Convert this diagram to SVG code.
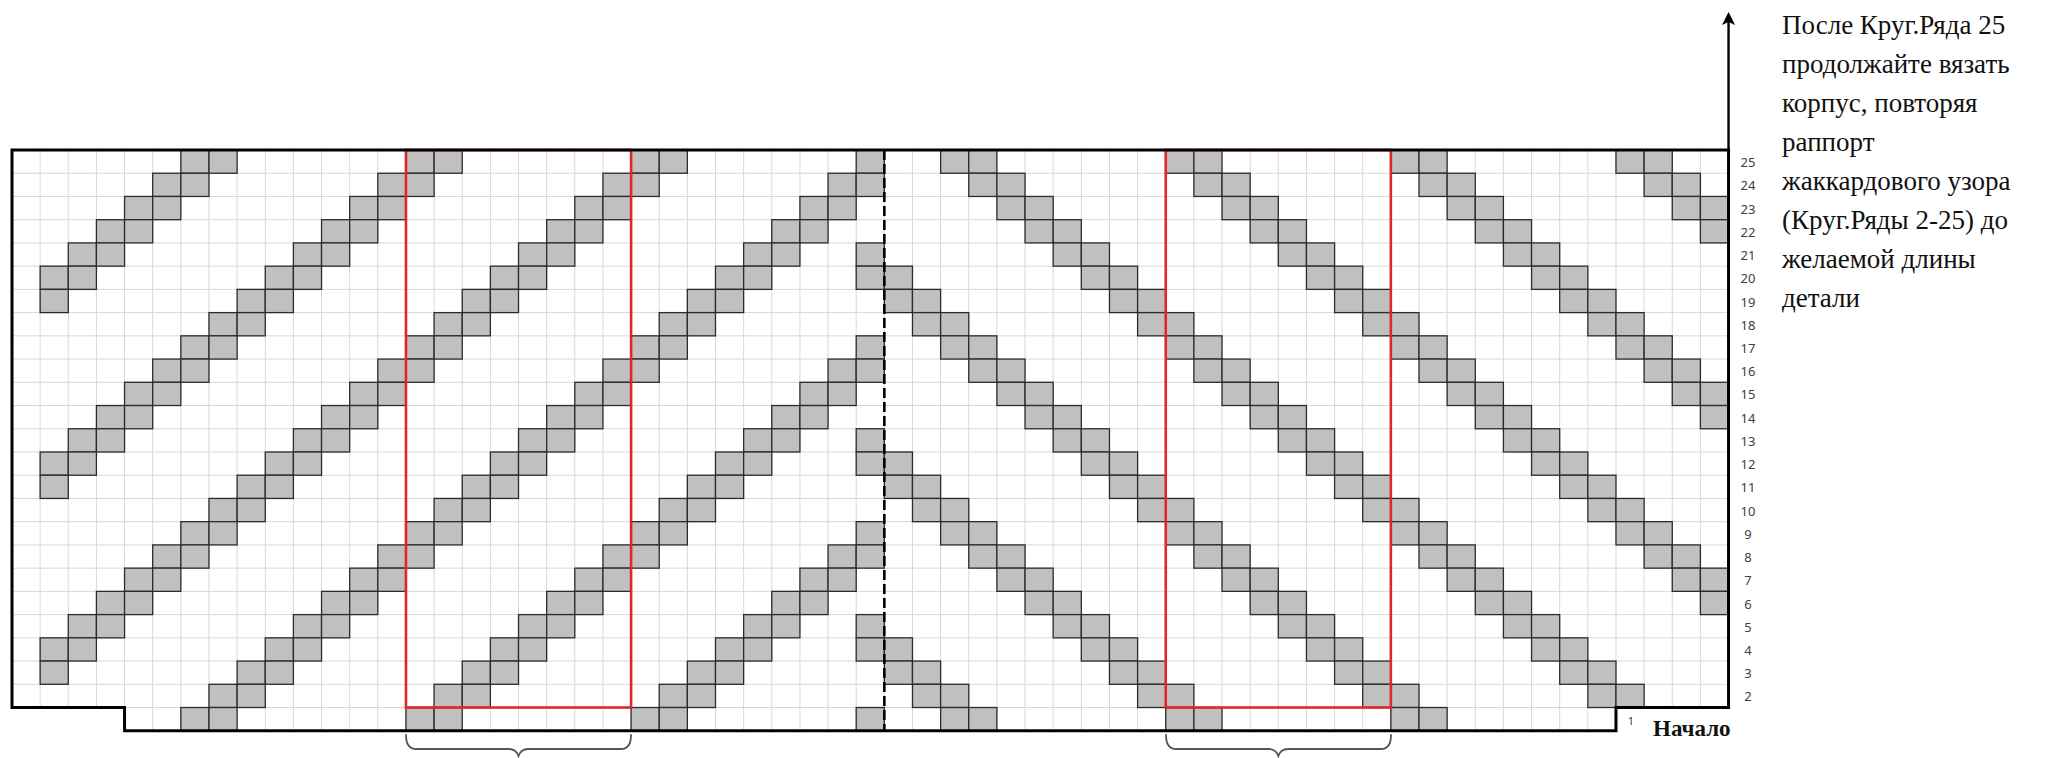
<svg xmlns="http://www.w3.org/2000/svg" xmlns:xlink="http://www.w3.org/1999/xlink" width="2060" height="758" viewBox="0 0 2060 758">
<style>
.cell{fill:#c0c0c0;stroke:#2b2b2b;stroke-width:1.3}
.grid{fill:none;stroke:#d8d8d8;stroke-width:1}
.rep{fill:none;stroke:#e0262b;stroke-width:2.6}
.brace{fill:none;stroke:#555;stroke-width:1.8;stroke-linecap:round}
.num{font-family:"Noto Sans","DejaVu Sans",sans-serif;font-size:13px;fill:#404040;text-anchor:middle}
.note{font-family:"Liberation Serif","Times New Roman",serif;font-size:27px;fill:#111}
</style>
<defs>
<rect id="c" class="cell" width="28.14" height="23.23"/>
<g id="blk">
<g id="r25">
<use href="#c" x="180.84"/><use href="#c" x="208.98"/><use href="#c" x="405.96"/><use href="#c" x="434.1"/><use href="#c" x="631.08"/><use href="#c" x="659.22"/><use href="#c" x="856.2"/><use href="#c" x="940.62"/><use href="#c" x="968.76"/><use href="#c" x="1165.74"/><use href="#c" x="1193.88"/><use href="#c" x="1390.86"/><use href="#c" x="1419"/><use href="#c" x="1615.98"/><use href="#c" x="1644.12"/>
</g>
<g transform="translate(0,23.23)">
<use href="#c" x="152.7"/><use href="#c" x="180.84"/><use href="#c" x="377.82"/><use href="#c" x="405.96"/><use href="#c" x="602.94"/><use href="#c" x="631.08"/><use href="#c" x="828.06"/><use href="#c" x="856.2"/><use href="#c" x="968.76"/><use href="#c" x="996.9"/><use href="#c" x="1193.88"/><use href="#c" x="1222.02"/><use href="#c" x="1419"/><use href="#c" x="1447.14"/><use href="#c" x="1644.12"/><use href="#c" x="1672.26"/>
</g>
<g transform="translate(0,46.46)">
<use href="#c" x="124.56"/><use href="#c" x="152.7"/><use href="#c" x="349.68"/><use href="#c" x="377.82"/><use href="#c" x="574.8"/><use href="#c" x="602.94"/><use href="#c" x="799.92"/><use href="#c" x="828.06"/><use href="#c" x="996.9"/><use href="#c" x="1025.04"/><use href="#c" x="1222.02"/><use href="#c" x="1250.16"/><use href="#c" x="1447.14"/><use href="#c" x="1475.28"/><use href="#c" x="1672.26"/><use href="#c" x="1700.4"/>
</g>
<g transform="translate(0,69.69)">
<use href="#c" x="96.42"/><use href="#c" x="124.56"/><use href="#c" x="321.54"/><use href="#c" x="349.68"/><use href="#c" x="546.66"/><use href="#c" x="574.8"/><use href="#c" x="771.78"/><use href="#c" x="799.92"/><use href="#c" x="1025.04"/><use href="#c" x="1053.18"/><use href="#c" x="1250.16"/><use href="#c" x="1278.3"/><use href="#c" x="1475.28"/><use href="#c" x="1503.42"/><use href="#c" x="1700.4"/>
</g>
<g transform="translate(0,92.92)">
<use href="#c" x="68.28"/><use href="#c" x="96.42"/><use href="#c" x="293.4"/><use href="#c" x="321.54"/><use href="#c" x="518.52"/><use href="#c" x="546.66"/><use href="#c" x="743.64"/><use href="#c" x="771.78"/><use href="#c" x="856.2"/><use href="#c" x="1053.18"/><use href="#c" x="1081.32"/><use href="#c" x="1278.3"/><use href="#c" x="1306.44"/><use href="#c" x="1503.42"/><use href="#c" x="1531.56"/>
</g>
<g transform="translate(0,116.15)">
<use href="#c" x="40.14"/><use href="#c" x="68.28"/><use href="#c" x="265.26"/><use href="#c" x="293.4"/><use href="#c" x="490.38"/><use href="#c" x="518.52"/><use href="#c" x="715.5"/><use href="#c" x="743.64"/><use href="#c" x="856.2"/><use href="#c" x="884.34"/><use href="#c" x="1081.32"/><use href="#c" x="1109.46"/><use href="#c" x="1306.44"/><use href="#c" x="1334.58"/><use href="#c" x="1531.56"/><use href="#c" x="1559.7"/>
</g>
<g transform="translate(0,139.38)">
<use href="#c" x="40.14"/><use href="#c" x="237.12"/><use href="#c" x="265.26"/><use href="#c" x="462.24"/><use href="#c" x="490.38"/><use href="#c" x="687.36"/><use href="#c" x="715.5"/><use href="#c" x="884.34"/><use href="#c" x="912.48"/><use href="#c" x="1109.46"/><use href="#c" x="1137.6"/><use href="#c" x="1334.58"/><use href="#c" x="1362.72"/><use href="#c" x="1559.7"/><use href="#c" x="1587.84"/>
</g>
<g transform="translate(0,162.61)">
<use href="#c" x="208.98"/><use href="#c" x="237.12"/><use href="#c" x="434.1"/><use href="#c" x="462.24"/><use href="#c" x="659.22"/><use href="#c" x="687.36"/><use href="#c" x="912.48"/><use href="#c" x="940.62"/><use href="#c" x="1137.6"/><use href="#c" x="1165.74"/><use href="#c" x="1362.72"/><use href="#c" x="1390.86"/><use href="#c" x="1587.84"/><use href="#c" x="1615.98"/>
</g>
</g>
</defs>
<rect width="2060" height="758" fill="#fff"/>

<g id="grid">
<path class="grid" d="M40.14 150V707.52M68.28 150V707.52M96.42 150V707.52M124.56 150V707.52M152.7 150V730.75M180.84 150V730.75M208.98 150V730.75M237.12 150V730.75M265.26 150V730.75M293.4 150V730.75M321.54 150V730.75M349.68 150V730.75M377.82 150V730.75M405.96 150V730.75M434.1 150V730.75M462.24 150V730.75M490.38 150V730.75M518.52 150V730.75M546.66 150V730.75M574.8 150V730.75M602.94 150V730.75M631.08 150V730.75M659.22 150V730.75M687.36 150V730.75M715.5 150V730.75M743.64 150V730.75M771.78 150V730.75M799.92 150V730.75M828.06 150V730.75M856.2 150V730.75M884.34 150V730.75M912.48 150V730.75M940.62 150V730.75M968.76 150V730.75M996.9 150V730.75M1025.04 150V730.75M1053.18 150V730.75M1081.32 150V730.75M1109.46 150V730.75M1137.6 150V730.75M1165.74 150V730.75M1193.88 150V730.75M1222.02 150V730.75M1250.16 150V730.75M1278.3 150V730.75M1306.44 150V730.75M1334.58 150V730.75M1362.72 150V730.75M1390.86 150V730.75M1419 150V730.75M1447.14 150V730.75M1475.28 150V730.75M1503.42 150V730.75M1531.56 150V730.75M1559.7 150V730.75M1587.84 150V730.75M1615.98 150V707.52M1644.12 150V707.52M1672.26 150V707.52M1700.4 150V707.52"/>
<path class="grid" d="M12 173.23H1728.54M12 196.46H1728.54M12 219.69H1728.54M12 242.92H1728.54M12 266.15H1728.54M12 289.38H1728.54M12 312.61H1728.54M12 335.84H1728.54M12 359.07H1728.54M12 382.3H1728.54M12 405.53H1728.54M12 428.76H1728.54M12 451.99H1728.54M12 475.22H1728.54M12 498.45H1728.54M12 521.68H1728.54M12 544.91H1728.54M12 568.14H1728.54M12 591.37H1728.54M12 614.6H1728.54M12 637.83H1728.54M12 661.06H1728.54M12 684.29H1728.54M124.56 707.52H1615.98"/>
</g>

<g id="cells">
<use href="#blk" y="150"/>
<use href="#blk" y="335.84"/>
<use href="#blk" y="521.68"/>
<g id="row1" transform="translate(0,707.52)">
<use href="#c" x="180.84"/><use href="#c" x="208.98"/><use href="#c" x="405.96"/><use href="#c" x="434.1"/><use href="#c" x="631.08"/><use href="#c" x="659.22"/><use href="#c" x="856.2"/><use href="#c" x="940.62"/><use href="#c" x="968.76"/><use href="#c" x="1165.74"/><use href="#c" x="1193.88"/><use href="#c" x="1390.86"/><use href="#c" x="1419"/>
</g>
</g>

<g id="repeat-boxes">
<rect class="rep" x="405.96" y="150" width="225.12" height="557.52"/>
<rect class="rep" x="1165.74" y="150" width="225.12" height="557.52"/>
</g>

<g id="connectors">
<line id="center-line" x1="884.34" y1="150" x2="884.34" y2="730.75" stroke="#000" stroke-width="2.6" stroke-dasharray="10 4"/>
<path id="outline" d="M12 150H1728.54V707.52H1615.98V730.75H124.56V707.52H12Z" fill="none" stroke="#000" stroke-width="3"/>
<line id="arrow-line" x1="1728.54" y1="150" x2="1728.54" y2="18" stroke="#000" stroke-width="2.4"/>
<path id="arrow-head" d="M1728.54 12L1722 25L1728.54 22L1735.08 25Z" fill="#000"/>
<path class="brace" d="M406 735Q406 749 416 749H509Q516 749 518.5 756Q521 749 528 749H621Q631 749 631 735"/>
<path class="brace" d="M1166 735Q1166 749 1176 749H1269Q1276 749 1278.3 756Q1280.6 749 1288 749H1381Q1391 749 1391 735"/>
</g>

<g id="row-numbers">
<text class="num" x="1748" y="167.1">25</text>
<text class="num" x="1748" y="190.3">24</text>
<text class="num" x="1748" y="213.6">23</text>
<text class="num" x="1748" y="236.8">22</text>
<text class="num" x="1748" y="260">21</text>
<text class="num" x="1748" y="283.3">20</text>
<text class="num" x="1748" y="306.5">19</text>
<text class="num" x="1748" y="329.7">18</text>
<text class="num" x="1748" y="353">17</text>
<text class="num" x="1748" y="376.2">16</text>
<text class="num" x="1748" y="399.4">15</text>
<text class="num" x="1748" y="422.6">14</text>
<text class="num" x="1748" y="445.9">13</text>
<text class="num" x="1748" y="469.1">12</text>
<text class="num" x="1748" y="492.3">11</text>
<text class="num" x="1748" y="515.6">10</text>
<text class="num" x="1748" y="538.8">9</text>
<text class="num" x="1748" y="562">8</text>
<text class="num" x="1748" y="585.2">7</text>
<text class="num" x="1748" y="608.5">6</text>
<text class="num" x="1748" y="631.7">5</text>
<text class="num" x="1748" y="654.9">4</text>
<text class="num" x="1748" y="678.2">3</text>
<text class="num" x="1748" y="701.4">2</text>
<text class="num" x="1631" y="725" style="font-size:11px">1</text>
</g>

<g id="start-label">
<text x="1653" y="735.5" style="font-family:'Liberation Serif','Times New Roman',serif;font-size:23px;font-weight:bold;fill:#111">Начало</text>
</g>

<g id="note">
<text class="note" x="1782" y="34">После Круг.Ряда 25</text>
<text class="note" x="1782" y="73">продолжайте вязать</text>
<text class="note" x="1782" y="112">корпус, повторяя</text>
<text class="note" x="1782" y="151">раппорт</text>
<text class="note" x="1782" y="190">жаккардового узора</text>
<text class="note" x="1782" y="229">(Круг.Ряды 2-25) до</text>
<text class="note" x="1782" y="268">желаемой длины</text>
<text class="note" x="1782" y="307">детали</text>
</g>
</svg>
